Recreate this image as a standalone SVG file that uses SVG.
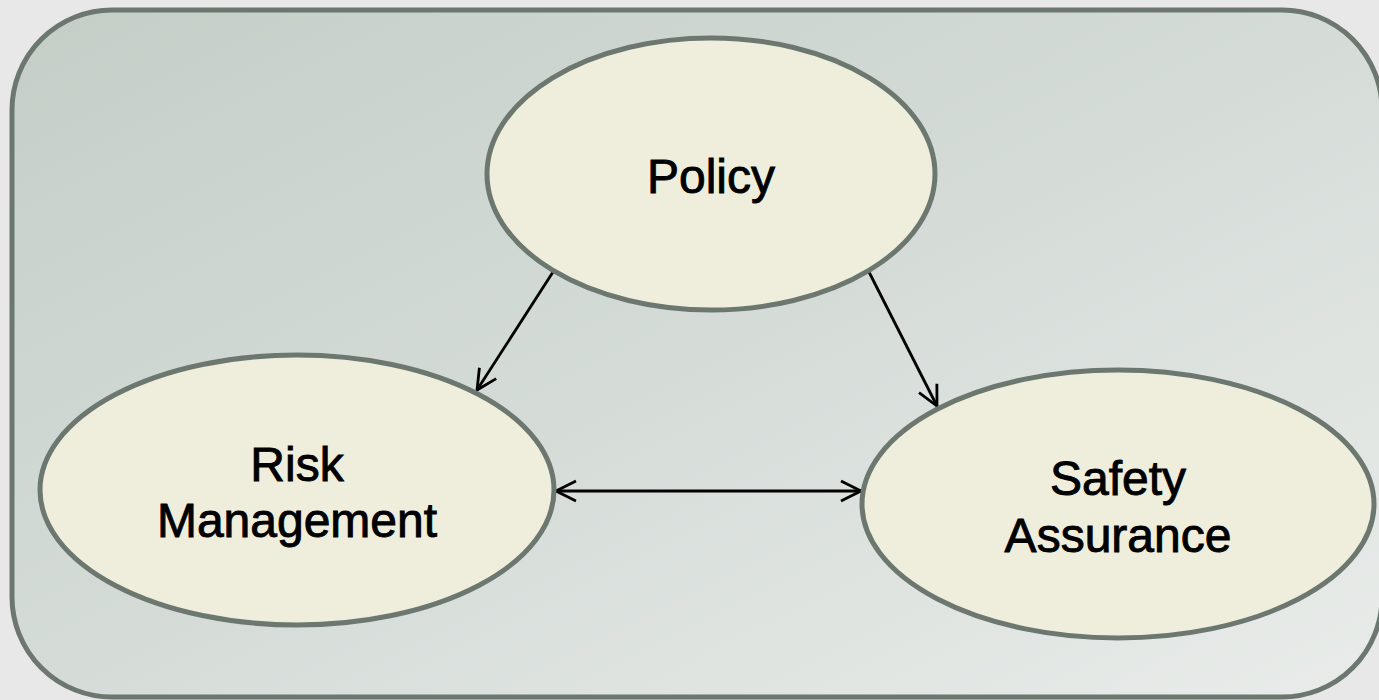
<svg xmlns="http://www.w3.org/2000/svg" width="1379" height="700" viewBox="0 0 1379 700">
  <style>
    .node ellipse { fill: #efeedc; stroke: #6c786f; stroke-width: 5; }
    .label { font-family: "Liberation Sans", Arial, sans-serif; font-size: 48px; fill: #000; stroke: #000; stroke-width: 0.9; text-anchor: middle; }
    .conn { stroke: #000; stroke-width: 2.8; fill: none; }
  </style>
  <defs>
    <linearGradient id="panelGrad" x1="0" y1="0" x2="1" y2="1">
      <stop offset="0" stop-color="#c4cec7"/>
      <stop offset="0.5" stop-color="#d5dcd8"/>
      <stop offset="1" stop-color="#e9ecea"/>
    </linearGradient>
    <marker id="arrowEnd" markerUnits="userSpaceOnUse" viewBox="-24 -14 28 28" refX="0" refY="0" markerWidth="28" markerHeight="28" orient="auto-start-reverse">
      <path d="M -20,-10 L 0,0 L -20,10" fill="none" stroke="#000" stroke-width="2.8" stroke-linejoin="miter"/>
    </marker>
  </defs>

  <rect id="page" x="0" y="0" width="1379" height="700" fill="#e8e8e8"/>
  <rect id="panel" x="12" y="10" width="1370" height="687" rx="100" ry="100" fill="url(#panelGrad)" stroke="#6c786f" stroke-width="5"/>

  <g id="connectors">
    <line class="conn" x1="553" y1="272" x2="477" y2="390" marker-end="url(#arrowEnd)"/>
    <line class="conn" x1="869" y1="272" x2="937" y2="406" marker-end="url(#arrowEnd)"/>
    <line class="conn" x1="556" y1="491" x2="861" y2="491" marker-start="url(#arrowEnd)" marker-end="url(#arrowEnd)"/>
  </g>

  <g id="policy" class="node">
    <ellipse cx="711" cy="174" rx="224" ry="136"/>
    <text class="label" x="711" y="193">Policy</text>
  </g>

  <g id="risk-management" class="node">
    <ellipse cx="297" cy="490" rx="257" ry="135"/>
    <text class="label" x="297" y="481">Risk</text>
    <text class="label" x="297" y="537">Management</text>
  </g>

  <g id="safety-assurance" class="node">
    <ellipse cx="1118" cy="504" rx="256" ry="134"/>
    <text class="label" x="1118" y="495">Safety</text>
    <text class="label" x="1118" y="552">Assurance</text>
  </g>
</svg>
